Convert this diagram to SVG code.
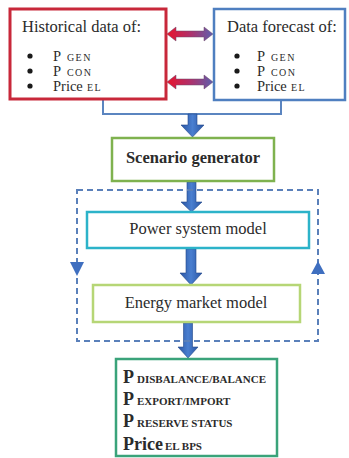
<svg xmlns="http://www.w3.org/2000/svg" width="349" height="458" viewBox="0 0 349 458">
<defs>
<linearGradient id="gRB" x1="0" y1="0" x2="1" y2="0">
<stop offset="0" stop-color="#e8132c"/>
<stop offset="0.5" stop-color="#b0306a"/>
<stop offset="1" stop-color="#5d5fae"/>
</linearGradient>
<linearGradient id="gBlue" x1="0" y1="0" x2="1" y2="0">
<stop offset="0" stop-color="#2a55a3"/>
<stop offset="0.5" stop-color="#4a7fd0"/>
<stop offset="1" stop-color="#2a55a3"/>
</linearGradient>
</defs>
<style>
text{font-family:"Liberation Serif","Times New Roman",serif;fill:#2b2b2b}
.h{font-size:16.5px}
.it{font-size:14.5px}
.sub{font-size:10px;letter-spacing:1.4px}
.c{font-size:16.5px;text-anchor:middle}
.b{font-weight:bold}
.ob{font-size:18px;font-weight:bold}
.os{font-size:11px;font-weight:bold}
.box{fill:#fff;stroke-width:2.5}
.dot{fill:#1a1a1a}
.thick{fill:url(#gBlue);stroke:#22488a;stroke-width:0.6}
.dbl{fill:url(#gRB);stroke:#6a4a6a;stroke-width:0.5}
.br{fill:none;stroke:#5b85c0;stroke-width:2}
.dash{fill:none;stroke:#5a80ba;stroke-width:2;stroke-dasharray:6 4}
.tri{fill:#3f6fc0}
</style>
<rect width="349" height="458" fill="#fff"/>

<g id="connectors">
<polygon class="dbl" points="167,34 176,27 176,31 204,31 204,27 213,34 204,41 204,37 176,37 176,41"/>
<polygon class="dbl" points="167,82 176,75 176,79 204,79 204,75 213,82 204,89 204,85 176,85 176,89"/>
<polyline class="br" points="103,100 103,114 281,114 281,101"/>
<polygon class="thick" points="188,114 197,114 197,125 204,125 192.5,137 181,125 188,125"/>
<polygon class="thick" points="187,182 196,182 196,202 202,202 191.5,212 181,202 187,202"/>
<polygon class="thick" points="186,249 196,249 196,273 202,273 191,285 180,273 186,273"/>
<polygon class="thick" points="183.5,323 192.5,323 192.5,347 198,347 188,358 178,347 183.5,347"/>
<rect class="dash" x="77" y="190" width="241" height="151"/>
<polygon class="tri" points="70,262 84,262 77,276"/>
<polygon class="tri" points="318,261 311,274 325,274"/>
</g>

<g id="historical">
<rect class="box" x="10" y="9" width="156" height="90" stroke="#c8283a" style="stroke-width:3"/>
<text class="h" x="22" y="32">Historical data of:</text>
<circle class="dot" cx="30" cy="56" r="2.6"/>
<circle class="dot" cx="30" cy="71" r="2.6"/>
<circle class="dot" cx="30" cy="86" r="2.6"/>
<text class="it" x="53" y="61">P</text><text class="sub" x="67" y="61">GEN</text>
<text class="it" x="53" y="76">P</text><text class="sub" x="67" y="76">CON</text>
<text class="it" x="53" y="91">Price</text><text class="sub" x="87" y="91">EL</text>
</g>

<g id="forecast">
<rect class="box" x="214" y="9" width="131" height="91" stroke="#4f7fc0"/>
<text class="h" x="227" y="32">Data forecast of:</text>
<circle class="dot" cx="237" cy="56" r="2.6"/>
<circle class="dot" cx="237" cy="71" r="2.6"/>
<circle class="dot" cx="237" cy="86" r="2.6"/>
<text class="it" x="257" y="61">P</text><text class="sub" x="271" y="61">GEN</text>
<text class="it" x="257" y="76">P</text><text class="sub" x="271" y="76">CON</text>
<text class="it" x="257" y="91">Price</text><text class="sub" x="291" y="91">EL</text>
</g>

<g id="scenario">
<rect class="box" x="112" y="138" width="162" height="43" stroke="#7fb24f"/>
<text class="c b" x="193" y="163">Scenario generator</text>
</g>

<g id="power">
<rect class="box" x="87" y="212" width="222" height="36" stroke="#2cb3c9"/>
<text class="c" x="198" y="234">Power system model</text>
</g>

<g id="market">
<rect class="box" x="93" y="285" width="207" height="37" stroke="#b6d676"/>
<text class="c" x="196" y="308">Energy market model</text>
</g>

<g id="output">
<rect class="box" x="116" y="359" width="161" height="97" stroke="#3aa37a"/>
<text class="ob" x="123" y="383">P</text><text class="os" x="137" y="383">DISBALANCE/BALANCE</text>
<text class="ob" x="123" y="405">P</text><text class="os" x="137" y="405">EXPORT/IMPORT</text>
<text class="ob" x="123" y="427">P</text><text class="os" x="137" y="427">RESERVE STATUS</text>
<text class="ob" x="123" y="450">Price</text><text class="os" x="165" y="450">EL BPS</text>
</g>
</svg>
